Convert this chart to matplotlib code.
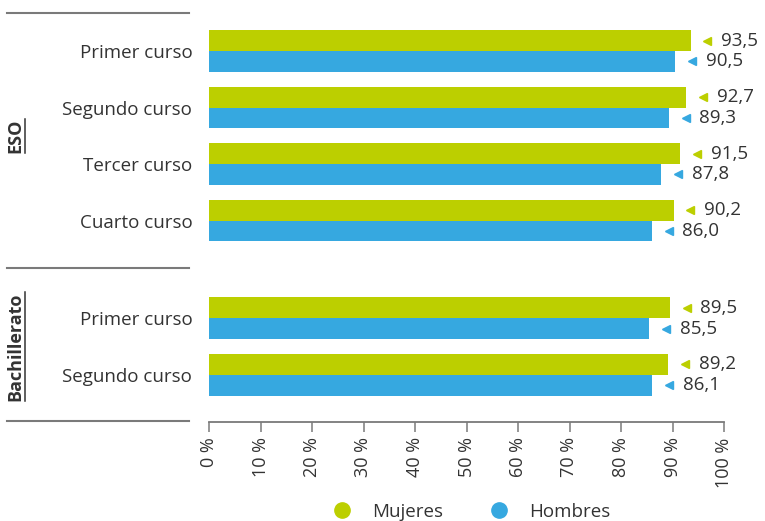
import matplotlib
matplotlib.use('Agg')
import matplotlib.pyplot as plt
from matplotlib import transforms
from matplotlib.lines import Line2D
import numpy as np

# data
cursos = ['Primer curso', 'Segundo curso', 'Tercer curso', 'Cuarto curso',
          'Primer curso', 'Segundo curso']
grupos = ['ESO', 'Bachillerato']
mujeres = [93.5, 92.7, 91.5, 90.2, 89.5, 89.2]
hombres = [90.5, 89.3, 87.8, 86.0, 85.5, 86.1]
ticks = list(range(0, 101, 10))

verde = '#bccf00'
azul = '#36a8e0'
texto = '#333333'
gris = '#7a7a7a'

plt.rcParams['font.family'] = ['Open Sans', 'DejaVu Sans']
fs = 13.5

pos = np.array([0, 1, 2, 3, 4.73, 5.73])   # gap between the two groups
h = 0.37

fig = plt.figure(figsize=(7.65, 5.21), dpi=100)
ax = fig.add_axes([209/765, 99/521, 515/765, 409/521])

ax.barh(pos - h/2, mujeres, height=h, color=verde)
ax.barh(pos + h/2, hombres, height=h, color=azul)

ax.set_xlim(0, 100)
ax.set_ylim(6.566, -0.673)

# value labels with small triangles
tri = transforms.offset_copy(ax.transData, fig, x=12, units='points')
for serie, dy, col in [(mujeres, -h/2, verde), (hombres, h/2, azul)]:
    for v, y in zip(serie, pos + dy):
        ax.plot(v, y, marker='<', ms=6, color=col, transform=tri, clip_on=False)
        ax.annotate(f'{v:.1f}'.replace('.', ','), (v, y), xytext=(22, 0),
                    textcoords='offset points', va='center', ha='left',
                    fontsize=fs, color=texto)

# axes styling
for s in ['top', 'right', 'left']:
    ax.spines[s].set_visible(False)
ax.spines['bottom'].set_color(gris)
ax.spines['bottom'].set_linewidth(1.3)
ax.set_xticks(ticks)
ax.set_xticklabels([f'{t} %' for t in ticks], rotation=90, fontsize=13,
                   color=texto)
ax.tick_params(axis='x', length=7, width=1.1, color=gris, pad=4)
ax.set_yticks(pos)
ax.set_yticklabels(cursos, fontsize=fs, color=texto)
ax.tick_params(axis='y', length=0, pad=12)

# separator lines to the left of the bars
tr = transforms.blended_transform_factory(fig.transFigure, ax.transData)
for y in [-0.673, 3.84, 6.55]:
    ax.add_line(Line2D([7/765, 189/765], [y, y], transform=tr, color=gris,
                       lw=1.5, clip_on=False))

# group labels, bold and underlined
etiquetas = []
for g, y in zip(grupos, [(pos[0] + pos[3])/2 + 0.0, (pos[4] + pos[5])/2]):
    t = ax.text(15/765, y, g, transform=tr, rotation=90, ha='center',
                va='center', fontsize=13, fontweight='bold', color=texto)
    etiquetas.append(t)
fig.canvas.draw()
r = fig.canvas.get_renderer()
for t in etiquetas:
    bb = t.get_window_extent(r)
    x = bb.x1 + 1
    fig.add_artist(Line2D([x, x], [bb.y0, bb.y1], transform=None,
                          color=texto, lw=1.1))

# legend
hnd = [Line2D([], [], ls='', marker='o', ms=11, color=verde),
       Line2D([], [], ls='', marker='o', ms=11, color=azul)]
fig.legend(hnd, ['Mujeres', 'Hombres'], loc='lower center', ncol=2,
           bbox_to_anchor=(0.61, -0.032), frameon=False, fontsize=fs,
           labelcolor=texto, handletextpad=0.6, columnspacing=2.0)

fig.savefig('out.png', dpi=100)
